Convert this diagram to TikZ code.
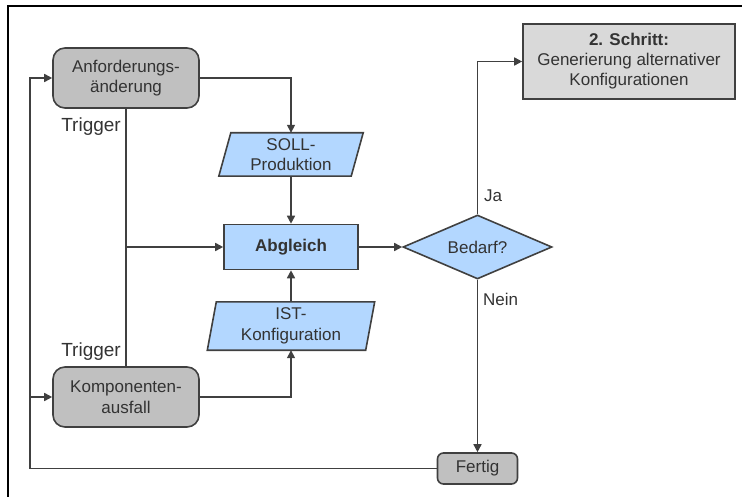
\documentclass[tikz,border=0pt]{standalone}
\usepackage{fontspec}
\setmainfont{Liberation Sans}
\usetikzlibrary{shapes.geometric,arrows.meta,calc}
\pgfdeclarelayer{background}
\pgfsetlayers{background,main}
\definecolor{lineg}{HTML}{404040}
\definecolor{boxgray}{HTML}{C0C0C0}
\definecolor{lightboxgray}{HTML}{D9D9D9}
\definecolor{bluefill}{HTML}{B3D7FF}
\definecolor{txt}{HTML}{333333}
\begin{document}
\begin{tikzpicture}[x=1pt,y=-1pt,
  font=\fontsize{17}{20.5}\selectfont,
  every node/.style={text=txt},
  conn/.style={draw=lineg, line width=1.6pt},
  arr/.style={conn, -{Triangle[length=8pt,width=8pt]}},
  graybox/.style={draw=lineg, line width=1.6pt, fill=boxgray, rounded corners=12pt,
    align=center, inner sep=0pt, minimum width=146pt, minimum height=60pt},
  bluebox/.style={draw=lineg, line width=1.6pt, fill=bluefill, align=center, inner sep=0pt},
  paratext/.style={align=center, inner sep=0pt},
  paradraw/.style={draw=lineg, line width=1.6pt, fill=bluefill},
  lbl/.style={inner sep=0pt},
  trig/.style={inner sep=0pt, anchor=east, font=\fontsize{19}{22}\selectfont}
]
\useasboundingbox (0,0) rectangle (742,497);
% frame
\draw[line width=2.5pt, black] (8,497) -- (8,6) -- (742,6);

% nodes
\node[graybox] (anf) at (126,78) {Anforderungs-\\änderung};
\node[graybox] (komp) at (126,397) {Komponenten-\\ausfall};
\node[paratext, minimum width=132pt, minimum height=43pt] (soll) at (291,154.5) {SOLL-\\Produktion};
\node[paratext, minimum width=158pt, minimum height=48pt] (ist) at (291,326) {IST-\\Konfiguration};
\node[bluebox, minimum width=134pt, minimum height=45pt, font=\fontsize{17}{20.5}\selectfont\bfseries] (abg) at (291,247) {Abgleich};
\node[diamond, aspect=2.33, draw=lineg, fill=bluefill, line width=1.6pt,
  minimum width=149pt, minimum height=64pt, inner sep=0pt] (bed) at (477.5,247) {Bedarf?};
\node[draw=lineg, line width=1.6pt, fill=lightboxgray, align=center, inner sep=0pt,
  minimum width=212pt, minimum height=75pt, font=\fontsize{17}{20}\selectfont] (schritt) at (629,61.5)
  {\textbf{2. Schritt:}\\Generierung alternativer\\Konfigurationen};
\node[draw=lineg, line width=1.6pt, fill=boxgray, rounded corners=6pt, inner sep=0pt,
  minimum width=80pt, minimum height=31pt] (fertig) at (477.5,468.5) {Fertig};

\begin{pgfonlayer}{background}
\draw[paradraw] ($(soll.south west)+(-6,0)$) -- ($(soll.south east)+(-6,0)$)
  -- ($(soll.north east)+(6,0)$) -- ($(soll.north west)+(6,0)$) -- cycle;
\draw[paradraw] ($(ist.south west)+(-4.5,0)$) -- ($(ist.south east)+(-4.5,0)$)
  -- ($(ist.north east)+(4.5,0)$) -- ($(ist.north west)+(4.5,0)$) -- cycle;
\end{pgfonlayer}

% labels
\node[trig] (t1) at (121,127) {Trigger};
\node[trig] (t2) at (121,352) {Trigger};
\node[lbl, anchor=west] (ja) at (484,196) {Ja};
\node[lbl, anchor=west] (nein) at (483,299) {Nein};

% connectors
\coordinate (cL) at (30,468.5);
\draw[arr] (anf.east) -| (soll.north);
\draw[arr] (soll.south) -- (abg.north);
\draw[arr] (ist.north) -- (abg.south);
\draw[arr] (komp.east) -| (ist.south);
\draw[conn] (anf.south) -- (komp.north);
\draw[arr] (anf.south |- abg.west) -- (abg.west);
\draw[arr] (abg.east) -- (bed.west);
\draw[arr] (bed.north) |- (schritt.west);
\draw[arr] (bed.south) -- (fertig.north);
\draw[arr] (fertig.west) -- (cL) |- (anf.west);
\draw[arr] (cL |- komp.west) -- (komp.west);
\end{tikzpicture}
\end{document}
